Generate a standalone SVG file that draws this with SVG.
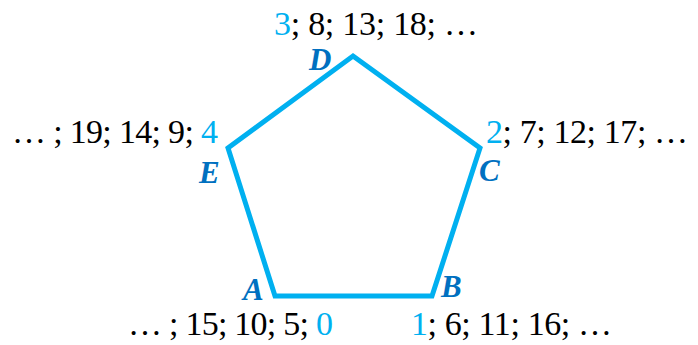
<svg xmlns="http://www.w3.org/2000/svg" width="698" height="345" viewBox="0 0 698 345">
<style>
.seq{font-family:"Liberation Serif",serif;font-size:34px;fill:#000}
.hl{fill:#00B0F0}
.lbl{font-family:"Liberation Serif",serif;font-size:31px;font-weight:bold;font-style:italic;fill:#0070C0}
.edge{fill:none;stroke:#00B0F0;stroke-width:5;stroke-linejoin:miter}
</style>
<g id="connectors">
<polygon class="edge" points="353,56 480,148 432,296 275,296 228,148"/>
</g>
<g id="D"><text class="lbl" x="309" y="70">D</text><text class="seq" x="274" y="35" textLength="204"><tspan class="hl">3</tspan>; 8; 13; 18; …</text></g>
<g id="E"><text class="lbl" x="199" y="183">E</text><text class="seq" x="12" y="143" textLength="206">… ; 19; 14; 9; <tspan class="hl">4</tspan></text></g>
<g id="C"><text class="lbl" x="479" y="181">C</text><text class="seq" x="486" y="143" textLength="202"><tspan class="hl">2</tspan>; 7; 12; 17; …</text></g>
<g id="A"><text class="lbl" x="243" y="300">A</text><text class="seq" x="128" y="335" textLength="205">… ; 15; 10; 5; <tspan class="hl">0</tspan></text></g>
<g id="B"><text class="lbl" x="441" y="297">B</text><text class="seq" x="411" y="335" textLength="201"><tspan class="hl">1</tspan>; 6; 11; 16; …</text></g>
</svg>
